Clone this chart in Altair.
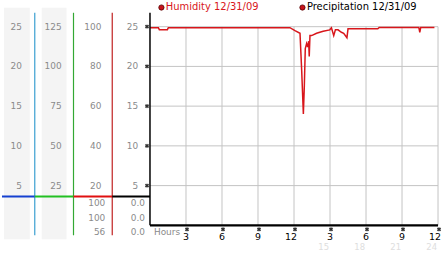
import altair as alt
import pandas as pd

# ---- data ----
hours = [0.0, 0.7, 0.78, 1.45, 1.53, 11.66, 12.08, 12.5, 12.64, 12.78, 12.86, 12.94,
         13.05, 13.14, 13.22, 13.27, 13.33, 13.47, 13.88, 14.15, 14.43, 14.98, 15.12,
         15.31, 15.45, 15.67, 15.95, 16.14, 16.41, 16.5, 18.98, 19.1, 22.4, 22.48,
         22.56, 23.7]
humidity = [99.5, 99.5, 98.5, 98.5, 99.5, 99.5, 98.0, 96.7, 78.0, 56.0, 70.0, 89.0,
            91.5, 89.7, 92.7, 85.0, 95.5, 95.5, 96.7, 97.2, 97.7, 98.4, 99.4,
            95.5, 98.4, 98.4, 97.2, 96.7, 94.4, 98.9, 98.9, 99.6, 99.6, 97.2,
            99.6, 99.6]

grid_pos = [20, 40, 60, 80, 100]
col1_labels = ["5", "10", "15", "20", "25"]
col2_labels = ["25", "50", "75", "100", "125"]
col3_labels = ["20", "40", "60", "80", "100"]
col4_labels = ["5", "10", "15", "20", "25"]

x_ticks = [3, 6, 9, 12, 15, 18, 21, 24]
x_labels = ["3", "6", "9", "12", "3", "6", "9", "12"]
x_faint = ["", "", "", "", "15", "18", "21", "24"]

hum_table = ["100", "100", "56"]
precip_table = ["0.0", "0.0", "0.0"]

legend_names = ["Humidity 12/31/09", "Precipitation 12/31/09"]

# ---- frames ----
line_df = pd.DataFrame({"h": hours, "hum": humidity})
grid_df = pd.DataFrame({"pos": grid_pos, "c1": col1_labels, "c2": col2_labels,
                        "c3": col3_labels, "c4": col4_labels})
xt_df = pd.DataFrame({"t": x_ticks, "lab": x_labels, "faint": x_faint})
tab_df = pd.DataFrame({"row": [0, 1, 2], "hum": hum_table, "pre": precip_table})
one = pd.DataFrame({"k": [0]})

FONT = "DejaVu Sans"
GRAY = "#8a8a8a"
XS = alt.Scale(domain=[0, 24], nice=False, zero=False)
YS = alt.Scale(domain=[0, 107], nice=False, zero=False)


def X(field):
    return alt.X(field, type="quantitative", scale=XS, axis=None)


def Y(field):
    return alt.Y(field, type="quantitative", scale=YS, axis=None)


layers = []

# invisible bound fixer (top-left corner)
layers.append(alt.Chart(one).mark_rule(strokeOpacity=0).encode(
    x=alt.value(-149), x2=alt.value(-140), y=alt.value(-12)))

# gray column backgrounds
for a, b in [(-147, -121), (-109, -84)]:
    layers.append(alt.Chart(one).mark_rect(color="#f4f4f4").encode(
        x=alt.value(a), x2=alt.value(b), y=alt.value(-5), y2=alt.value(228)))

# horizontal gridlines
layers.append(alt.Chart(grid_df).mark_rule(color="#c4c4c4", strokeWidth=1).encode(
    y=Y("pos")))
# vertical gridlines
layers.append(alt.Chart(xt_df).mark_rule(color="#c4c4c4", strokeWidth=1).encode(
    x=X("t"), y=alt.YDatum(0, scale=YS, axis=None), y2=alt.Y2Datum(100)))

# column separator lines (vertical) and horizontal colored segments
for xv, col in [(-116, "#3a9fd0"), (-77, "#33a833"), (-38, "#c02020")]:
    layers.append(alt.Chart(one).mark_rule(color=col, strokeWidth=1.2).encode(
        x=alt.value(xv), y=alt.value(0), y2=alt.value(224)))
for a, b, col in [(-149, -116, "#1540d0"), (-116, -77, "#22c022"),
                  (-77, -38, "#e01010"), (-38, 0, "#000000")]:
    layers.append(alt.Chart(one).mark_rule(color=col, strokeWidth=2.2).encode(
        x=alt.value(a), x2=alt.value(b), y=alt.value(185)))

# column labels
for field, xr in [("c1", -129), ("c2", -89), ("c3", -49), ("c4", -12)]:
    layers.append(alt.Chart(grid_df).mark_text(
        align="right", baseline="middle", font=FONT, fontSize=9, color=GRAY).encode(
        y=Y("pos"), x=alt.value(xr), text=alt.Text(field)))

# table rows under the colored line
for field, xr in [("hum", -45), ("pre", -5)]:
    layers.append(alt.Chart(tab_df).mark_text(
        align="right", baseline="middle", font=FONT, fontSize=9, color=GRAY).encode(
        y=alt.Y("row:Q", scale=alt.Scale(domain=[0, 2], range=[192, 220.7]), axis=None),
        x=alt.value(xr), text=alt.Text(field)))

# humidity line
layers.append(alt.Chart(line_df).mark_line(color="#d8161b", strokeWidth=1.5).encode(
    x=X("h"), y=Y("hum")))

# black axes
layers.append(alt.Chart(one).mark_rule(color="black", strokeWidth=1.5).encode(
    x=alt.XDatum(0, scale=XS, axis=None), y=alt.YDatum(0, scale=YS, axis=None),
    y2=alt.Y2Datum(107)))
layers.append(alt.Chart(one).mark_rule(color="black", strokeWidth=2.2).encode(
    x=alt.XDatum(0, scale=XS, axis=None), x2=alt.X2Datum(24),
    y=alt.YDatum(0, scale=YS, axis=None)))

# tick glyphs (small x-crosses)
layers.append(alt.Chart(grid_df).mark_point(
    shape="cross", angle=45, filled=True, size=18, opacity=1, color="#333").encode(
    y=Y("pos"), x=alt.value(-3)))
layers.append(alt.Chart(xt_df).mark_point(
    shape="cross", angle=45, filled=True, size=18, opacity=1, color="#333").encode(
    x=X("t"), y=alt.value(218), xOffset=alt.value(1)))

# x labels
layers.append(alt.Chart(xt_df).mark_text(
    align="right", baseline="middle", font=FONT, fontSize=9.5, color="black", dx=3).encode(
    x=X("t"), y=alt.value(226), text=alt.Text("lab")))
layers.append(alt.Chart(xt_df).mark_text(
    align="right", baseline="middle", font=FONT, fontSize=8.5, color="#dedede", dx=-1).encode(
    x=X("t"), y=alt.value(236), text=alt.Text("faint")))
layers.append(alt.Chart(one).mark_text(
    align="left", baseline="middle", font=FONT, fontSize=9, color=GRAY, text="Hours").encode(
    x=alt.value(4), y=alt.value(221)))

# legend
leg_df = pd.DataFrame({"name": legend_names, "i": [0, 1]})
layers.append(alt.Chart(leg_df).mark_point(
    shape="circle", filled=True, size=28, opacity=1, stroke="#500000", strokeWidth=0.8).encode(
    x=alt.X("i:Q", scale=alt.Scale(domain=[0, 1], range=[11.5, 153.5]), axis=None),
    y=alt.value(-5.3),
    fill=alt.value("#c8141c")))
layers.append(alt.Chart(leg_df).mark_text(
    align="left", baseline="middle", font=FONT, fontSize=10).encode(
    x=alt.X("i:Q", scale=alt.Scale(domain=[0, 1], range=[16, 158]), axis=None),
    y=alt.value(-5.3), text=alt.Text("name"),
    color=alt.Color("i:N", scale=alt.Scale(range=["#d8161b", "#000000"]), legend=None)))

chart = alt.layer(*layers).resolve_scale(x="independent", y="independent").properties(
    width=290, height=214, padding=0, background="white"
).configure_view(stroke=None)

chart.save("out.html", embed_options={"renderer": "svg", "actions": False})
